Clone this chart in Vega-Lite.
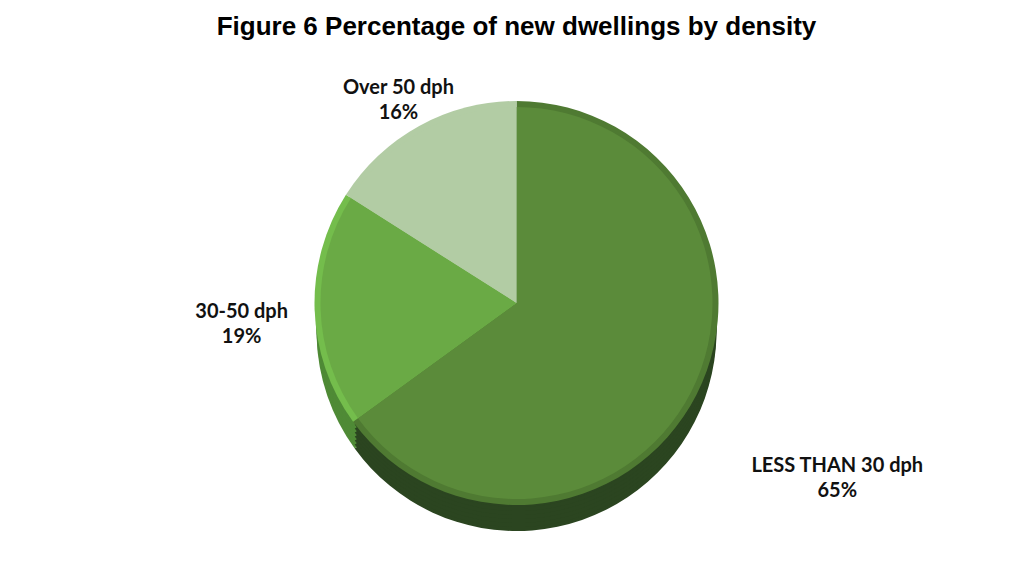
{
  "$schema": "https://vega.github.io/schema/vega-lite/v6.json",
  "width": 1023,
  "height": 570,
  "autosize": {"type": "fit", "contains": "padding"},
  "padding": {"top": 14, "bottom": 10, "left": 10, "right": 0},
  "background": "white",
  "title": {
    "text": "Figure 6 Percentage of new dwellings by density",
    "font": "Liberation Sans",
    "fontSize": 26,
    "fontWeight": "bold",
    "color": "#000000",
    "anchor": "middle",
    "offset": 6
  },
  "datasets": {
    "slices": [
      {"category": "LESS THAN 30 dph", "pct": 65, "ord": 1, "label": "LESS THAN 30 dph\n65%"},
      {"category": "30-50 dph", "pct": 19, "ord": 2, "label": "30-50 dph\n19%"},
      {"category": "Over 50 dph", "pct": 16, "ord": 3, "label": "Over 50 dph\n16%"}
    ]
  },
  "data": {"name": "slices"},
  "config": {"view": {"stroke": null}},
  "resolve": {"scale": {"color": "independent", "theta": "shared"}},
  "layer": [
    {
      "mark": {"type": "arc", "outerRadius": 200, "yOffset": 28},
      "encoding": {
        "theta": {"field": "pct", "type": "quantitative", "stack": true},
        "order": {"field": "ord", "type": "quantitative"},
        "color": {"field": "category", "type": "nominal", "legend": null,
          "scale": {"domain": ["LESS THAN 30 dph", "30-50 dph", "Over 50 dph"], "range": ["#2b4520", "#4f8a36", "#9ab88c"]}}
      }
    },
    {
      "mark": {"type": "arc", "outerRadius": 200, "yOffset": 24},
      "encoding": {
        "theta": {"field": "pct", "type": "quantitative", "stack": true},
        "order": {"field": "ord", "type": "quantitative"},
        "color": {"field": "category", "type": "nominal", "legend": null,
          "scale": {"domain": ["LESS THAN 30 dph", "30-50 dph", "Over 50 dph"], "range": ["#2b4520", "#4f8a36", "#9ab88c"]}}
      }
    },
    {
      "mark": {"type": "arc", "outerRadius": 200, "yOffset": 20},
      "encoding": {
        "theta": {"field": "pct", "type": "quantitative", "stack": true},
        "order": {"field": "ord", "type": "quantitative"},
        "color": {"field": "category", "type": "nominal", "legend": null,
          "scale": {"domain": ["LESS THAN 30 dph", "30-50 dph", "Over 50 dph"], "range": ["#2b4520", "#4f8a36", "#9ab88c"]}}
      }
    },
    {
      "mark": {"type": "arc", "outerRadius": 200, "yOffset": 16},
      "encoding": {
        "theta": {"field": "pct", "type": "quantitative", "stack": true},
        "order": {"field": "ord", "type": "quantitative"},
        "color": {"field": "category", "type": "nominal", "legend": null,
          "scale": {"domain": ["LESS THAN 30 dph", "30-50 dph", "Over 50 dph"], "range": ["#2b4520", "#4f8a36", "#9ab88c"]}}
      }
    },
    {
      "mark": {"type": "arc", "outerRadius": 200, "yOffset": 12},
      "encoding": {
        "theta": {"field": "pct", "type": "quantitative", "stack": true},
        "order": {"field": "ord", "type": "quantitative"},
        "color": {"field": "category", "type": "nominal", "legend": null,
          "scale": {"domain": ["LESS THAN 30 dph", "30-50 dph", "Over 50 dph"], "range": ["#2b4520", "#4f8a36", "#9ab88c"]}}
      }
    },
    {
      "mark": {"type": "arc", "outerRadius": 200, "yOffset": 8},
      "encoding": {
        "theta": {"field": "pct", "type": "quantitative", "stack": true},
        "order": {"field": "ord", "type": "quantitative"},
        "color": {"field": "category", "type": "nominal", "legend": null,
          "scale": {"domain": ["LESS THAN 30 dph", "30-50 dph", "Over 50 dph"], "range": ["#2b4520", "#4f8a36", "#9ab88c"]}}
      }
    },
    {
      "mark": {"type": "arc", "outerRadius": 200, "yOffset": 4},
      "encoding": {
        "theta": {"field": "pct", "type": "quantitative", "stack": true},
        "order": {"field": "ord", "type": "quantitative"},
        "color": {"field": "category", "type": "nominal", "legend": null,
          "scale": {"domain": ["LESS THAN 30 dph", "30-50 dph", "Over 50 dph"], "range": ["#2b4520", "#4f8a36", "#9ab88c"]}}
      }
    },
    {
      "mark": {"type": "arc", "outerRadius": 202, "yOffset": 0},
      "encoding": {
        "theta": {"field": "pct", "type": "quantitative", "stack": true},
        "order": {"field": "ord", "type": "quantitative"},
        "color": {"field": "category", "type": "nominal", "legend": null,
          "scale": {"domain": ["LESS THAN 30 dph", "30-50 dph", "Over 50 dph"], "range": ["#4f7a32", "#74bd4c", "#b2cca4"]}}
      }
    },
    {
      "mark": {"type": "arc", "outerRadius": 196, "yOffset": 0},
      "encoding": {
        "theta": {"field": "pct", "type": "quantitative", "stack": true},
        "order": {"field": "ord", "type": "quantitative"},
        "color": {"field": "category", "type": "nominal", "legend": null,
          "scale": {"domain": ["LESS THAN 30 dph", "30-50 dph", "Over 50 dph"], "range": ["#5b8b3a", "#6aaa45", "#b2cca4"]}}
      }
    },
    {
      "mark": {"type": "text", "radius": {"expr": "datum.ord == 1 ? 360 : (datum.ord == 2 ? 275 : 245)"}, "font": "Lato", "fontWeight": "bold", "fontSize": 20, "color": "#111111", "lineBreak": "\n", "align": "center", "baseline": "middle", "lineHeight": 25},
      "encoding": {
        "theta": {"field": "pct", "type": "quantitative", "stack": true},
        "order": {"field": "ord", "type": "quantitative"},
        "text": {"field": "label", "type": "nominal"}
      }
    }
  ]
}
